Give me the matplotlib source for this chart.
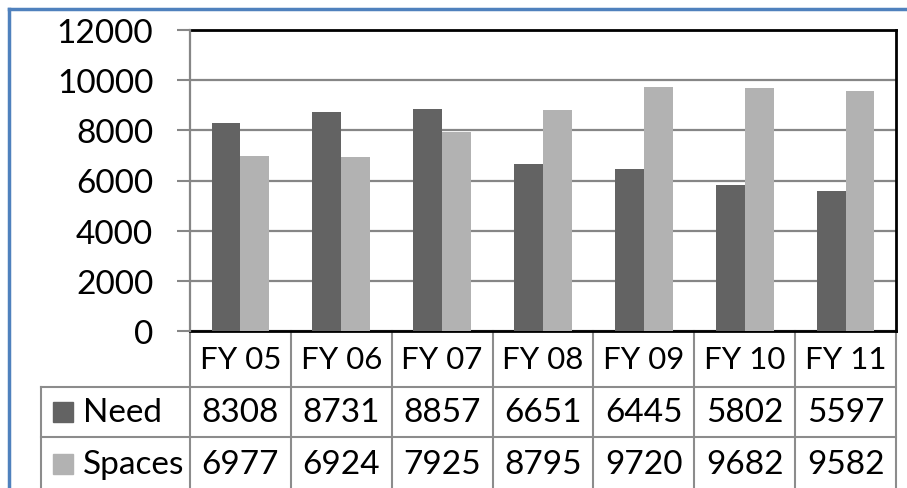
import matplotlib.pyplot as plt
import matplotlib.transforms as mtransforms
from matplotlib.patches import Rectangle
from matplotlib.lines import Line2D
import numpy as np

years = ['FY 05', 'FY 06', 'FY 07', 'FY 08', 'FY 09', 'FY 10', 'FY 11']
need = [8308, 8731, 8857, 6651, 6445, 5802, 5597]
spaces = [6977, 6924, 7925, 8795, 9720, 9682, 9582]
series = ['Need', 'Spaces']
colors = ['#636363', '#b2b2b2']

plt.rcParams['font.family'] = ['Lato', 'DejaVu Sans']
fs = 24

W, H = 907, 489
fig = plt.figure(figsize=(W / 100, H / 100), dpi=100)

# plot area in pixels
left, right, top, bottom = 190, 896, 31, 332
ax = fig.add_axes([left / W, 1 - bottom / H, (right - left) / W, (bottom - top) / H])

x = np.arange(len(years))
w = 0.2857
ax.bar(x - w / 2, need, w, color=colors[0], zorder=3)
ax.bar(x + w / 2, spaces, w, color=colors[1], zorder=3)

ax.set_xlim(-0.5, len(years) - 0.5)
ax.set_ylim(0, 12000)
ax.set_yticks(range(0, 12001, 2000))
ax.set_xticks([])
ax.yaxis.grid(True, color='#868686', lw=1.6)
ax.set_axisbelow(True)
ax.tick_params(axis='y', length=9.5, width=1.5, color='#868686', pad=17, labelsize=fs)

for s in ['top', 'right', 'bottom']:
    ax.spines[s].set_color('black')
    ax.spines[s].set_linewidth(2)
ax.spines['left'].set_color('#868686')
ax.spines['left'].set_linewidth(1.6)
ax.spines['left'].set_zorder(4)

# data table under the plot
trans = mtransforms.blended_transform_factory(ax.transData, ax.transAxes)


def py(p):
    return (bottom - p) / (bottom - top)


grid_c = '#8c8c8c'
xl = -1.977
x_end = len(years) - 0.5
for i in range(len(years) + 1):
    ax.plot([i - 0.5, i - 0.5], [py(332), py(492)], color=grid_c, lw=1.5,
            transform=trans, clip_on=False)
ax.plot([xl, xl], [py(388), py(492)], color=grid_c, lw=1.5, transform=trans, clip_on=False)
for yy in [388, 438]:
    ax.plot([xl, x_end], [py(yy), py(yy)], color=grid_c, lw=1.5, transform=trans, clip_on=False)

for i, yr in enumerate(years):
    ax.text(i, py(360), yr, transform=trans, ha='center', va='center', fontsize=22.5)

row_y = [413, 465]
for vals, name, c, yc in zip([need, spaces], series, colors, row_y):
    for i, v in enumerate(vals):
        ax.text(i, py(yc), str(v), transform=trans, ha='center', va='center', fontsize=fs)
    ax.add_patch(Rectangle((-1.857, py(yc + 10)), 0.198, 20 / (bottom - top),
                           transform=trans, color=c, clip_on=False))
    ax.text(-1.561, py(yc), name, transform=trans, ha='left', va='center', fontsize=fs)

# blue frame of the pasted chart
fig.add_artist(Line2D([9 / W, 9 / W], [0, 1 - 10 / H], transform=fig.transFigure,
                      color='#4f81bd', lw=2.5))
fig.add_artist(Line2D([9 / W, 1], [1 - 10 / H, 1 - 10 / H], transform=fig.transFigure,
                      color='#4f81bd', lw=2.5))

fig.savefig('out.png', dpi=100)
